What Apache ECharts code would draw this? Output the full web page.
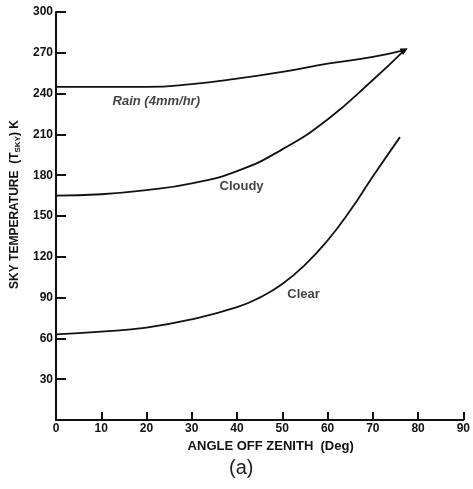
<!DOCTYPE html>
<html>
<head>
<meta charset="utf-8">
<script src="https://cdn.jsdelivr.net/npm/echarts@6/dist/echarts.min.js"></script>
<style>
  html, body { margin: 0; padding: 0; background: #fff; }
  #chart { width: 473px; height: 489px; }
</style>
</head>
<body>
<div id="chart"></div>
<script>
// sky temperature vs angle off zenith
const rainAngle   = [0, 10, 20, 30, 40, 50, 60, 70, 77];
const rainTemp    = [245, 245, 245, 247, 251, 256, 262, 267, 272];
const cloudyAngle = [0, 10, 20, 30, 40, 50, 60, 70, 77];
const cloudyTemp  = [165, 166, 169, 174, 183, 199, 221, 250, 272];
const clearAngle  = [0, 10, 20, 30, 40, 45, 50, 55, 60, 65, 70, 76];
const clearTemp   = [63, 65, 68, 74, 83, 90, 100, 114, 132, 154, 179, 208];

const xTicks = [0, 10, 20, 30, 40, 50, 60, 70, 80, 90];
const yTicks = [30, 60, 90, 120, 150, 180, 210, 240, 270, 300];

// curve labels (data coords: angle, temperature)
const curveLabels = [
  { name: 'Rain (4mm/hr)', at: [12.5, 234.5], align: 'left', italic: true },
  { name: 'Cloudy', at: [41, 171.5], align: 'center' },
  { name: 'Clear', at: [54.7, 92.5], align: 'center' },
];

const FONT = '"Liberation Sans", Arial, sans-serif';
const INK = '#111';

const pairs = (xs, ys, arrow) => xs.map((x, i) => {
  const p = { value: [x, ys[i]] };
  if (arrow && i === xs.length - 1) {
    p.symbol = 'triangle'; p.symbolSize = 7; p.symbolRotate = -62;
  }
  return p;
});

function lineSeries(name, xs, ys, arrow) {
  return {
    name, type: 'line', smooth: 0.5,
    showSymbol: !!arrow, symbol: 'none',
    data: pairs(xs, ys, arrow),
    lineStyle: { color: INK, width: 1.8 },
    itemStyle: { color: INK },
    silent: true, animation: false,
  };
}

const chart = echarts.init(document.getElementById('chart'));
chart.setOption({
  animation: false,
  grid: { left: 56, right: 6, top: 12, bottom: 69 },
  xAxis: {
    type: 'value', min: 0, max: 90, interval: 10,
    name: 'ANGLE OFF ZENITH  (Deg)', nameLocation: 'middle', nameGap: 18,
    nameTextStyle: { fontFamily: FONT, fontWeight: 'bold', fontSize: 13, color: INK, padding: [0, 0, 0, 22] },
    axisLine: { lineStyle: { color: INK, width: 2 } },
    axisTick: { inside: true, length: 8, lineStyle: { color: INK, width: 2 } },
    axisLabel: {
      fontFamily: FONT, fontWeight: 'bold', fontSize: 12, color: INK, margin: 3,
      formatter: (v) => (xTicks.includes(v) ? String(v) : ''),
    },
    splitLine: { show: false },
  },
  yAxis: {
    type: 'value', min: 0, max: 300, interval: 30,
    name: '{n|SKY TEMPERATURE  (T}{s|SKY}{n|) K}', nameLocation: 'middle', nameGap: 31,
    nameTextStyle: {
      padding: [0, 0, 0, 23],
      rich: {
        n: { fontFamily: FONT, fontWeight: 'bold', fontSize: 12, color: INK },
        s: { fontFamily: FONT, fontWeight: 'bold', fontSize: 8, color: INK, padding: [7, 0, 0, 0] },
      },
    },
    axisLine: { lineStyle: { color: INK, width: 2 } },
    axisTick: { inside: true, length: 10, lineStyle: { color: INK, width: 2 } },
    axisLabel: {
      fontFamily: FONT, fontWeight: 'bold', fontSize: 12, color: INK, margin: 3,
      formatter: (v) => (yTicks.includes(v) ? String(v) : ''),
    },
    splitLine: { show: false },
  },
  series: [
    lineSeries('Rain', rainAngle, rainTemp, true),
    lineSeries('Cloudy', cloudyAngle, cloudyTemp, true),
    lineSeries('Clear', clearAngle, clearTemp, false),
    {
      type: 'scatter', symbolSize: 0, silent: true,
      data: curveLabels.map((l) => ({
        value: l.at,
        label: {
          show: true, position: 'inside', formatter: l.name, align: l.align,
          fontFamily: FONT, fontWeight: 'bold', fontSize: 13, color: INK,
          fontStyle: l.italic ? 'italic' : 'normal',
        },
      })),
    },
  ],
  graphic: [{
    type: 'text', left: 229, top: 458,
    style: { text: '(a)', fontFamily: FONT, fontSize: 20, fill: '#222' },
  }],
});
</script>
</body>
</html>
